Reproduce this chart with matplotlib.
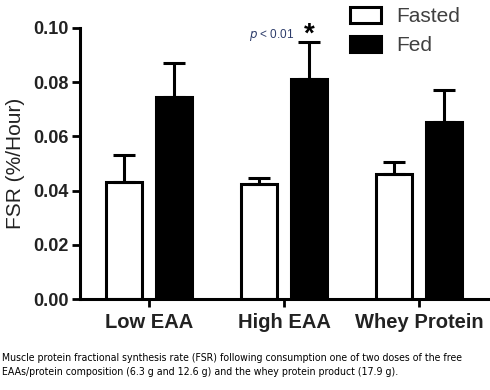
import numpy as np
import matplotlib.pyplot as plt

groups = ["Low EAA", "High EAA", "Whey Protein"]
fasted = [0.0432, 0.0425, 0.0463]
fasted_err = [0.0099, 0.0022, 0.0044]
fed = [0.0745, 0.0812, 0.0653]
fed_err = [0.0127, 0.0137, 0.0118]
yticks = [0.00, 0.02, 0.04, 0.06, 0.08, 0.10]

caption = ("Muscle protein fractional synthesis rate (FSR) following consumption one of two doses of the free\n"
           "EAAs/protein composition (6.3 g and 12.6 g) and the whey protein product (17.9 g).")

plt.rcParams['font.family'] = ['Liberation Sans', 'DejaVu Sans']

fig = plt.figure(figsize=(4.9, 3.9), dpi=100)
ax = fig.add_axes([80/490, 91/390, 410/490, 271/390])

x = np.arange(len(groups))
w = 0.26
off = 0.185
ax.bar(x - off, fasted, w, color='white', edgecolor='black', linewidth=2.2, label='Fasted',
       yerr=[np.zeros(3), fasted_err], error_kw=dict(capsize=8, elinewidth=2.2, capthick=2.2, ecolor='black'))
ax.bar(x + off, fed, w, color='black', edgecolor='black', linewidth=2.2, label='Fed',
       yerr=[np.zeros(3), fed_err], error_kw=dict(capsize=8, elinewidth=2.2, capthick=2.2, ecolor='black'))

ax.set_xlim(-0.511, 0.526 + 2)
ax.set_ylim(0, 0.10)
ax.set_yticks(yticks)
ax.set_yticklabels(["%.2f" % v for v in yticks], fontsize=13, fontweight='bold', color='#222222')
ax.set_xticks(x)
ax.set_xticklabels(groups, fontsize=14.5, fontweight='bold', color='#222222')
ax.set_ylabel("FSR (%/Hour)", fontsize=15, color='#222222', labelpad=6)

for s in ['top', 'right']:
    ax.spines[s].set_visible(False)
for s in ['left', 'bottom']:
    ax.spines[s].set_linewidth(2.2)
ax.tick_params(axis='both', width=2, length=6, direction='out', pad=2)
ax.tick_params(axis='x', pad=4)

# significance mark
ax.text(x[1] + off, fed[1] + fed_err[1] + 0.0025, "*", ha='center', va='center',
        fontsize=20, fontweight='bold')
ax.text(x[1] + off - 0.11, fed[1] + fed_err[1] + 0.0025, "$p$ < 0.01", ha='right', va='center',
        fontsize=8.5, color='#2e3d6b')

leg = ax.legend(loc='upper left', bbox_to_anchor=(350/490, 1 - 7/390), bbox_transform=fig.transFigure,
                frameon=False, fontsize=15, handlelength=1.5, handleheight=0.8,
                labelspacing=0.45, handletextpad=0.7, borderaxespad=0, borderpad=0)
for t in leg.get_texts():
    t.set_color('#404040')

fig.text(0.005, 1 - 365/390, caption, fontsize=7.6, family=['DejaVu Sans'], fontstretch='condensed',
         va='center', ha='left', linespacing=1.6)

fig.savefig("out.png", dpi=100)
